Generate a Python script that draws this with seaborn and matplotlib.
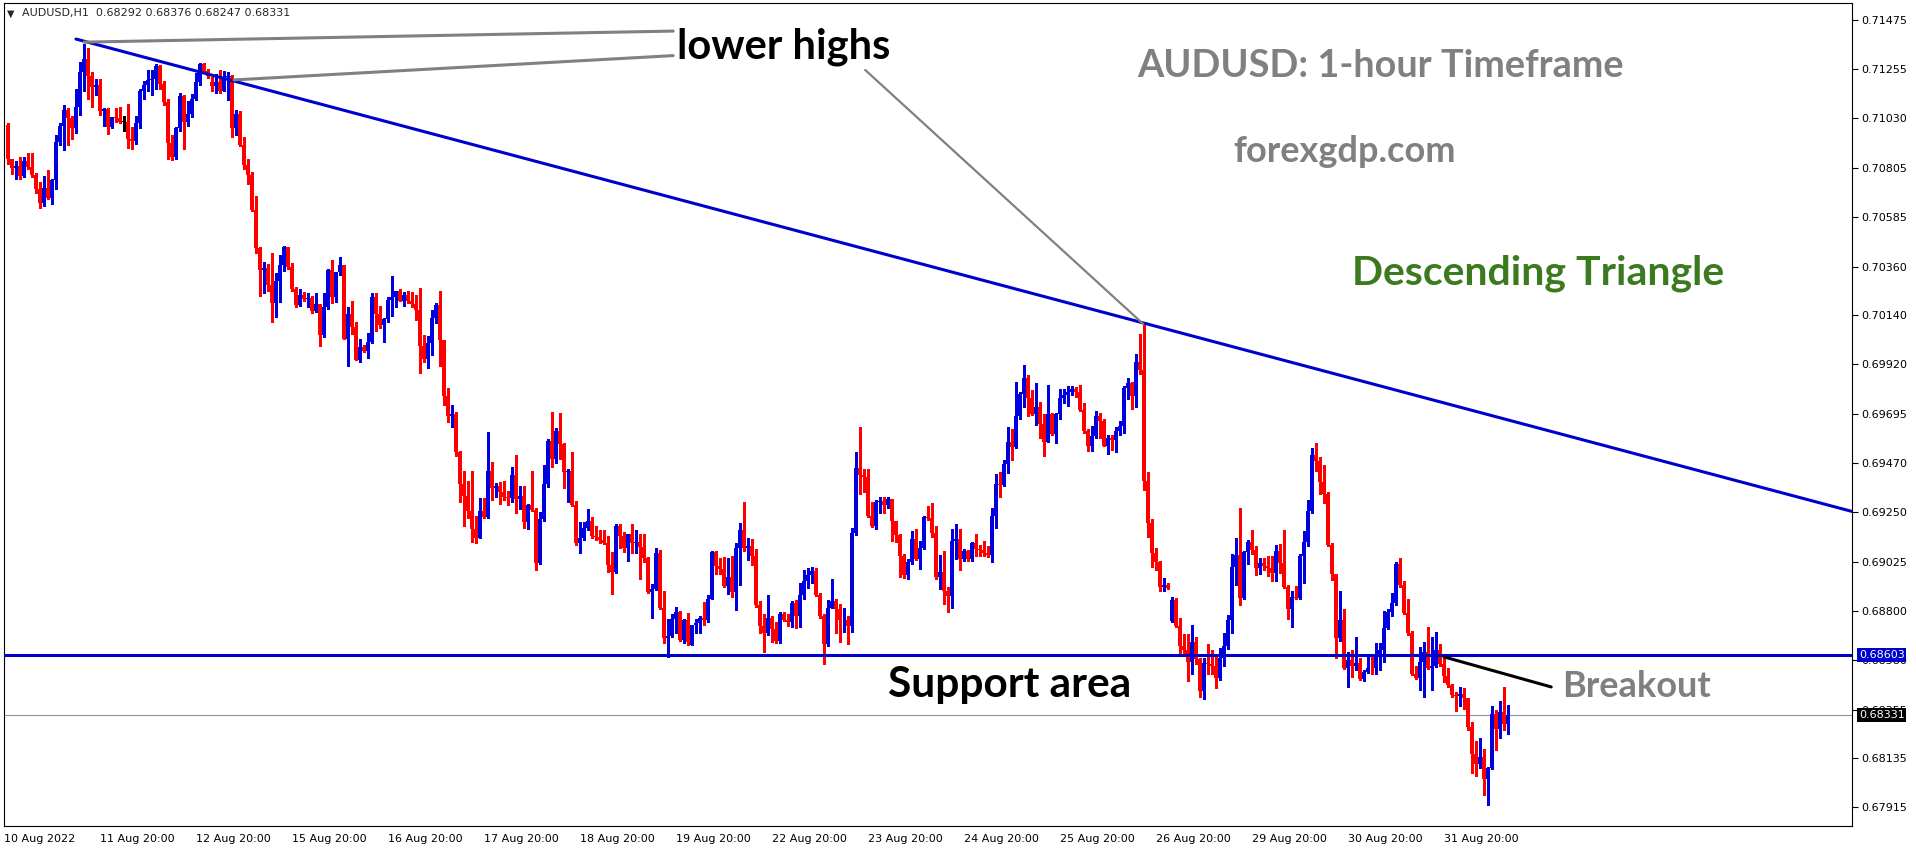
import numpy as np
import pandas as pd
import seaborn as sns
import matplotlib.pyplot as plt
import matplotlib.transforms as mtransforms
from matplotlib.ticker import FormatStrFormatter

# AUDUSD H1 candles, prices in pips (price * 1e4), one entry per hourly bar
opens = [
    7100.0, 7084.8, 7080.7, 7081.4, 7077.1, 7083.9, 7081.2, 7077.3, 7071.0, 7064.6,
    7071.4, 7066.9, 7075.0, 7092.3, 7099.5, 7106.7, 7103.3, 7098.6, 7108.1, 7124.2,
    7129.9, 7122.4, 7117.4, 7118.3, 7106.3, 7107.2, 7099.1, 7103.6, 7103.4, 7101.3,
    7101.3, 7093.8, 7092.9, 7100.9, 7115.6, 7117.9, 7120.4, 7120.6, 7126.9, 7118.7,
    7110.4, 7092.0, 7085.7, 7098.6, 7113.1, 7101.3, 7104.9, 7111.7, 7119.4, 7127.6,
    7124.4, 7119.4, 7117.6, 7119.4, 7115.3, 7121.9, 7122.4, 7098.6, 7105.1, 7091.1,
    7081.8, 7077.3, 7061.6, 7044.5, 7034.3, 7035.2, 7027.5, 7019.5, 7029.3, 7036.5,
    7044.9, 7035.6, 7025.8, 7018.6, 7023.1, 7021.3, 7021.8, 7015.9, 7018.9, 7005.2,
    7017.7, 7034.3, 7022.2, 7033.3, 7036.5, 7003.4, 7014.5, 7008.7, 6993.9, 6999.8,
    6997.7, 7001.9, 7022.3, 7014.3, 7009.5, 7012.2, 7021.0, 7022.1, 7024.7, 7020.6,
    7023.3, 7020.6, 7019.0, 7016.3, 7000.2, 6994.3, 7001.5, 7012.8, 7018.5, 7002.7,
    6977.4, 6968.4, 6969.3, 6952.3, 6937.7, 6932.1, 6925.5, 6917.1, 6913.0, 6925.5,
    6922.8, 6943.4, 6935.7, 6936.6, 6933.9, 6931.8, 6931.4, 6941.6, 6930.9, 6932.3,
    6920.5, 6928.2, 6926.0, 6901.9, 6921.9, 6937.7, 6957.2, 6949.1, 6961.8, 6955.9,
    6942.9, 6943.4, 6928.2, 6910.8, 6913.3, 6917.5, 6921.0, 6914.2, 6913.6, 6912.1,
    6910.8, 6900.8, 6897.8, 6918.4, 6914.2, 6908.5, 6914.8, 6910.7, 6911.5, 6908.9,
    6904.1, 6888.9, 6890.3, 6906.2, 6881.7, 6867.8, 6868.8, 6876.7, 6879.9, 6866.9,
    6876.0, 6864.7, 6873.7, 6874.9, 6877.2, 6876.3, 6885.6, 6906.7, 6900.5, 6899.2,
    6891.5, 6895.5, 6888.7, 6908.5, 6916.9, 6908.5, 6909.6, 6905.1, 6882.7, 6873.2,
    6870.2, 6876.8, 6872.0, 6866.4, 6878.6, 6875.9, 6875.0, 6884.0, 6878.1, 6887.6,
    6893.8, 6896.5, 6898.3, 6887.6, 6877.7, 6865.2, 6881.6, 6884.5, 6880.9, 6875.9,
    6876.3, 6873.2, 6915.6, 6944.8, 6941.7, 6941.0, 6923.3, 6918.5, 6929.6, 6930.0,
    6928.1, 6931.0, 6921.0, 6914.4, 6904.9, 6896.5, 6902.2, 6912.9, 6903.6, 6908.5,
    6922.8, 6922.1, 6915.3, 6895.6, 6897.7, 6889.3, 6887.0, 6911.7, 6912.6, 6903.6,
    6907.2, 6903.6, 6910.8, 6908.1, 6907.8, 6906.3, 6905.4, 6923.3, 6937.6, 6937.1,
    6946.6, 6956.7, 6954.2, 6968.4, 6978.4, 6985.5, 6976.6, 6969.4, 6972.5, 6964.8,
    6956.7, 6969.3, 6960.3, 6969.3, 6976.6, 6977.8, 6979.3, 6980.5, 6979.3, 6971.0,
    6961.4, 6954.6, 6959.1, 6968.4, 6966.2, 6955.0, 6958.2, 6957.3, 6961.8, 6963.9,
    6980.9, 6983.2, 6977.5, 6992.7, 6989.2, 6938.8, 6919.8, 6906.6, 6902.5, 6891.2,
    6891.8, 6875.7, 6885.0, 6873.4, 6864.4, 6862.3, 6856.9, 6866.2, 6858.3, 6843.8,
    6856.5, 6856.0, 6855.5, 6849.8, 6858.7, 6864.4, 6876.2, 6900.2, 6905.5, 6885.9,
    6907.0, 6911.3, 6907.9, 6899.8, 6902.0, 6900.7, 6899.5, 6897.5, 6907.3, 6902.0,
    6891.2, 6881.0, 6886.4, 6885.9, 6905.2, 6911.4, 6925.2, 6950.8, 6948.1, 6938.3,
    6932.9, 6910.2, 6897.1, 6868.0, 6876.2, 6854.2, 6857.8, 6855.1, 6856.5, 6849.4,
    6852.4, 6854.6, 6854.2, 6860.0, 6862.6, 6872.6, 6879.8, 6883.7, 6901.6, 6891.8,
    6879.3, 6870.3, 6851.5, 6849.8, 6856.9, 6861.7, 6854.2, 6855.5, 6862.6, 6856.0,
    6850.6, 6846.5, 6842.2, 6841.6, 6842.6, 6840.8, 6827.9, 6815.4, 6810.8, 6814.0,
    6804.2, 6809.2, 6833.7, 6826.9, 6834.6, 6829.2,
]
highs = [
    7100.9, 7084.8, 7083.6, 7085.7, 7085.7, 7087.5, 7087.5, 7078.2, 7074.1, 7077.1,
    7079.8, 7075.5, 7095.6, 7100.9, 7109.0, 7107.9, 7104.0, 7116.5, 7128.7, 7136.7,
    7134.9, 7124.2, 7120.6, 7120.6, 7107.7, 7107.6, 7103.6, 7107.6, 7108.1, 7104.0,
    7109.5, 7099.1, 7104.0, 7116.1, 7119.7, 7125.1, 7125.1, 7127.8, 7127.2, 7120.1,
    7111.7, 7095.6, 7099.1, 7114.7, 7113.5, 7110.8, 7114.0, 7123.7, 7128.1, 7128.1,
    7125.5, 7121.9, 7123.0, 7125.1, 7124.6, 7124.2, 7122.8, 7106.8, 7106.3, 7094.7,
    7084.8, 7078.9, 7067.8, 7044.9, 7037.9, 7037.0, 7042.2, 7032.9, 7041.0, 7045.4,
    7044.9, 7037.7, 7026.6, 7025.8, 7024.5, 7024.0, 7022.7, 7024.0, 7018.9, 7024.0,
    7034.7, 7038.8, 7033.5, 7040.1, 7036.5, 7017.7, 7020.4, 7010.9, 7003.0, 7000.7,
    7006.0, 7024.0, 7024.0, 7018.1, 7012.8, 7022.4, 7031.9, 7025.1, 7025.6, 7024.4,
    7024.7, 7024.6, 7022.9, 7026.4, 7005.1, 7004.7, 7016.2, 7019.7, 7024.9, 7002.7,
    6980.9, 6973.4, 6970.2, 6952.7, 6943.7, 6938.9, 6943.4, 6923.2, 6931.4, 6931.4,
    6961.3, 6947.7, 6938.0, 6938.6, 6938.9, 6934.4, 6945.2, 6950.9, 6936.6, 6936.6,
    6928.7, 6943.4, 6926.9, 6925.0, 6946.4, 6958.1, 6970.2, 6963.1, 6969.9, 6956.3,
    6944.3, 6952.0, 6930.0, 6920.5, 6920.5, 6926.4, 6922.8, 6918.7, 6916.9, 6916.6,
    6914.2, 6906.7, 6919.3, 6919.3, 6916.0, 6915.1, 6919.6, 6916.6, 6915.1, 6915.1,
    6904.4, 6892.4, 6908.5, 6907.6, 6889.2, 6876.7, 6879.0, 6882.1, 6880.0, 6876.7,
    6879.4, 6874.0, 6876.7, 6877.9, 6884.4, 6887.6, 6907.2, 6907.2, 6904.1, 6904.6,
    6904.1, 6904.9, 6910.8, 6920.1, 6929.4, 6913.3, 6912.6, 6908.1, 6884.9, 6878.6,
    6887.6, 6877.7, 6875.0, 6879.5, 6879.5, 6878.6, 6884.9, 6885.2, 6892.9, 6898.8,
    6899.5, 6900.1, 6899.5, 6888.4, 6878.6, 6885.2, 6894.7, 6885.8, 6883.4, 6881.6,
    6878.1, 6917.9, 6951.9, 6963.5, 6944.2, 6944.2, 6929.6, 6930.5, 6931.7, 6931.7,
    6931.7, 6931.0, 6921.0, 6914.9, 6906.0, 6903.6, 6916.2, 6917.1, 6911.7, 6923.3,
    6927.8, 6929.2, 6918.5, 6905.4, 6907.2, 6891.0, 6917.1, 6919.7, 6917.4, 6908.1,
    6907.7, 6911.2, 6914.9, 6909.9, 6912.0, 6909.4, 6926.9, 6942.1, 6943.0, 6948.3,
    6963.2, 6962.7, 6983.6, 6979.3, 6991.3, 6987.1, 6980.2, 6983.2, 6974.8, 6969.3,
    6982.3, 6969.6, 6969.8, 6980.5, 6980.5, 6982.0, 6981.8, 6981.4, 6982.3, 6974.3,
    6962.3, 6963.9, 6970.7, 6969.8, 6967.1, 6959.6, 6960.0, 6963.5, 6966.2, 6981.8,
    6985.4, 6983.6, 6996.6, 7005.6, 7009.8, 6943.1, 6921.6, 6908.8, 6903.0, 6895.3,
    6893.0, 6886.4, 6885.9, 6876.9, 6869.8, 6869.8, 6873.9, 6868.5, 6858.7, 6858.7,
    6865.3, 6862.3, 6860.8, 6863.2, 6870.3, 6878.4, 6906.1, 6913.2, 6926.6, 6907.3,
    6912.3, 6916.8, 6909.5, 6904.3, 6904.3, 6905.2, 6905.2, 6910.2, 6910.5, 6916.8,
    6891.8, 6889.1, 6891.3, 6906.1, 6916.3, 6930.2, 6953.8, 6956.1, 6949.9, 6946.0,
    6934.1, 6910.9, 6897.1, 6889.1, 6881.0, 6861.4, 6862.6, 6868.5, 6858.7, 6853.3,
    6859.6, 6859.6, 6865.8, 6865.8, 6880.1, 6881.0, 6888.2, 6902.5, 6904.3, 6893.6,
    6885.5, 6871.2, 6855.1, 6864.0, 6866.2, 6873.0, 6868.5, 6870.7, 6865.3, 6859.0,
    6854.2, 6847.1, 6843.5, 6845.6, 6845.3, 6841.0, 6830.0, 6821.5, 6822.9, 6817.6,
    6809.6, 6837.2, 6835.4, 6839.4, 6845.8, 6837.6,
]
lows = [
    7082.5, 7077.7, 7075.7, 7075.7, 7076.4, 7080.3, 7076.4, 7069.3, 7062.4, 7063.3,
    7066.6, 7064.2, 7071.0, 7091.1, 7088.9, 7091.1, 7093.8, 7096.5, 7104.5, 7115.6,
    7111.7, 7108.1, 7113.5, 7104.5, 7099.5, 7096.1, 7098.6, 7101.3, 7100.9, 7097.4,
    7089.7, 7089.0, 7091.6, 7098.6, 7111.7, 7115.3, 7113.5, 7116.5, 7116.5, 7109.0,
    7084.8, 7084.3, 7084.8, 7097.4, 7089.3, 7099.7, 7103.6, 7111.1, 7118.3, 7123.7,
    7121.2, 7115.3, 7114.4, 7114.7, 7115.3, 7111.3, 7094.7, 7095.6, 7090.7, 7080.0,
    7073.2, 7061.0, 7041.9, 7022.5, 7024.0, 7024.9, 7010.9, 7013.2, 7019.8, 7033.8,
    7034.7, 7024.9, 7017.7, 7018.2, 7020.4, 7017.7, 7015.0, 7015.6, 7000.2, 7004.3,
    7016.8, 7019.5, 7019.8, 7032.0, 7003.0, 6990.8, 7005.5, 6993.5, 6993.0, 6997.1,
    6994.8, 7001.2, 7007.0, 7008.1, 7002.0, 7011.0, 7013.7, 7017.9, 7020.3, 7018.3,
    7019.4, 7017.9, 7011.9, 6987.6, 6992.6, 6989.9, 6996.1, 7010.4, 6990.8, 6973.2,
    6965.6, 6963.4, 6950.5, 6929.4, 6918.7, 6922.3, 6911.2, 6910.8, 6913.0, 6922.3,
    6922.3, 6930.3, 6931.8, 6928.7, 6930.3, 6928.2, 6929.4, 6924.6, 6926.4, 6917.8,
    6917.1, 6925.5, 6898.7, 6901.6, 6921.0, 6936.2, 6945.2, 6947.0, 6948.8, 6935.7,
    6929.4, 6927.7, 6909.8, 6906.2, 6912.1, 6916.9, 6913.3, 6912.1, 6910.8, 6910.3,
    6897.8, 6888.0, 6897.3, 6908.5, 6906.7, 6902.6, 6906.2, 6906.2, 6894.8, 6902.3,
    6888.5, 6876.9, 6889.7, 6881.2, 6865.6, 6859.4, 6868.3, 6870.4, 6866.5, 6865.6,
    6865.0, 6864.7, 6870.4, 6870.4, 6874.0, 6875.4, 6885.6, 6896.9, 6896.9, 6891.2,
    6888.0, 6886.5, 6880.4, 6891.9, 6907.3, 6903.1, 6901.0, 6882.0, 6870.2, 6861.6,
    6869.1, 6866.1, 6865.6, 6865.5, 6875.5, 6873.2, 6873.0, 6872.4, 6872.7, 6885.8,
    6890.6, 6892.9, 6887.0, 6876.8, 6856.3, 6864.3, 6881.3, 6870.2, 6866.1, 6870.6,
    6865.2, 6870.6, 6914.4, 6933.1, 6934.0, 6922.7, 6918.0, 6917.4, 6924.6, 6924.6,
    6926.8, 6911.7, 6911.3, 6895.6, 6895.2, 6894.7, 6901.3, 6903.1, 6899.2, 6908.1,
    6921.5, 6913.8, 6894.7, 6889.9, 6883.1, 6879.5, 6881.3, 6903.6, 6898.8, 6902.7,
    6902.7, 6902.7, 6905.0, 6905.0, 6905.0, 6904.5, 6902.2, 6917.9, 6931.7, 6936.7,
    6942.4, 6948.4, 6953.7, 6966.8, 6972.5, 6968.5, 6968.9, 6964.4, 6958.2, 6950.1,
    6956.4, 6959.9, 6956.0, 6966.8, 6974.3, 6972.8, 6977.8, 6977.0, 6970.7, 6960.9,
    6952.5, 6952.5, 6958.6, 6958.6, 6954.6, 6951.0, 6952.8, 6951.9, 6960.0, 6960.9,
    6976.1, 6971.6, 6972.5, 6987.2, 6934.7, 6913.6, 6900.2, 6898.9, 6889.1, 6889.1,
    6890.0, 6875.2, 6872.7, 6860.8, 6860.8, 6848.3, 6851.5, 6856.0, 6841.2, 6840.5,
    6851.5, 6851.5, 6845.3, 6848.9, 6855.1, 6863.1, 6870.3, 6891.8, 6882.8, 6885.5,
    6901.6, 6906.1, 6896.6, 6897.1, 6898.9, 6896.2, 6893.6, 6893.6, 6897.2, 6890.5,
    6876.6, 6873.0, 6885.5, 6885.5, 6893.0, 6909.7, 6924.5, 6943.6, 6932.9, 6928.8,
    6909.7, 6894.1, 6858.7, 6866.7, 6853.7, 6845.8, 6850.1, 6853.3, 6848.8, 6848.3,
    6851.9, 6851.5, 6851.5, 6853.3, 6857.0, 6871.9, 6878.0, 6882.8, 6891.2, 6878.7,
    6869.4, 6851.0, 6849.3, 6844.4, 6841.2, 6853.7, 6844.4, 6854.8, 6855.1, 6847.9,
    6845.8, 6841.2, 6835.1, 6837.2, 6835.8, 6826.5, 6806.8, 6805.4, 6809.0, 6797.0,
    6792.2, 6808.8, 6817.2, 6822.6, 6826.5, 6824.7,
]
closes = [
    7084.8, 7080.7, 7081.4, 7077.1, 7083.9, 7081.2, 7077.3, 7071.0, 7064.6, 7071.4,
    7066.9, 7075.0, 7092.3, 7099.5, 7106.7, 7103.3, 7098.6, 7108.1, 7124.2, 7129.9,
    7122.4, 7117.4, 7118.3, 7106.3, 7107.2, 7099.1, 7103.6, 7103.4, 7101.3, 7101.3,
    7093.8, 7092.9, 7100.9, 7115.6, 7117.9, 7120.4, 7120.6, 7126.9, 7118.7, 7110.4,
    7092.0, 7085.7, 7098.6, 7113.1, 7101.3, 7104.9, 7111.7, 7119.4, 7127.6, 7124.4,
    7122.4, 7117.6, 7119.4, 7115.3, 7121.9, 7122.4, 7098.6, 7105.1, 7091.1, 7081.8,
    7077.3, 7061.6, 7044.5, 7034.3, 7035.2, 7027.5, 7019.5, 7029.3, 7036.5, 7044.9,
    7035.6, 7025.8, 7018.6, 7023.1, 7021.3, 7021.8, 7015.9, 7018.9, 7005.2, 7017.7,
    7034.3, 7022.2, 7033.3, 7036.5, 7003.4, 7014.5, 7008.7, 6993.9, 6999.8, 6997.7,
    7001.9, 7022.3, 7014.3, 7009.5, 7012.2, 7021.0, 7022.1, 7024.7, 7020.6, 7023.3,
    7020.6, 7019.0, 7016.3, 7000.2, 6994.3, 7001.5, 7012.8, 7018.5, 7002.7, 6977.4,
    6968.4, 6969.3, 6952.3, 6937.7, 6932.1, 6925.5, 6917.1, 6913.0, 6925.5, 6922.8,
    6943.4, 6935.7, 6936.6, 6933.9, 6931.8, 6931.4, 6941.6, 6930.9, 6932.3, 6920.5,
    6928.2, 6926.0, 6901.9, 6921.9, 6937.7, 6957.2, 6949.1, 6961.8, 6955.9, 6942.9,
    6943.4, 6928.2, 6910.8, 6913.3, 6917.5, 6921.0, 6914.2, 6913.6, 6912.1, 6910.8,
    6900.8, 6897.8, 6918.4, 6914.2, 6908.5, 6914.8, 6910.7, 6911.5, 6908.9, 6904.1,
    6888.9, 6890.3, 6906.2, 6881.7, 6867.8, 6868.8, 6876.7, 6879.9, 6866.9, 6876.0,
    6866.0, 6873.7, 6874.9, 6877.2, 6876.3, 6885.6, 6906.7, 6900.5, 6899.2, 6891.5,
    6895.5, 6888.7, 6908.5, 6916.9, 6908.5, 6909.6, 6905.1, 6882.7, 6873.2, 6870.2,
    6876.8, 6872.0, 6866.4, 6878.6, 6875.9, 6875.0, 6884.0, 6878.1, 6887.6, 6893.8,
    6896.5, 6898.3, 6887.6, 6877.7, 6865.2, 6881.6, 6884.5, 6880.9, 6875.9, 6876.3,
    6873.2, 6915.6, 6944.8, 6941.7, 6941.0, 6923.3, 6918.5, 6929.6, 6930.0, 6928.1,
    6931.0, 6921.0, 6914.4, 6904.9, 6896.5, 6902.2, 6912.9, 6903.6, 6908.5, 6922.8,
    6922.1, 6915.3, 6895.6, 6897.7, 6889.3, 6887.0, 6911.7, 6912.6, 6903.6, 6907.2,
    6903.6, 6910.8, 6908.1, 6907.8, 6906.3, 6905.4, 6923.3, 6937.6, 6937.1, 6946.6,
    6956.7, 6954.2, 6968.4, 6978.4, 6985.5, 6976.6, 6969.4, 6972.5, 6964.8, 6956.7,
    6969.3, 6960.3, 6969.3, 6976.6, 6977.8, 6979.3, 6980.5, 6979.3, 6971.0, 6961.4,
    6954.6, 6959.1, 6968.4, 6966.2, 6955.0, 6958.2, 6957.3, 6961.8, 6963.9, 6980.9,
    6983.2, 6977.5, 6992.7, 6989.2, 6938.8, 6919.8, 6906.6, 6902.5, 6891.2, 6891.8,
    6890.5, 6885.0, 6873.4, 6864.4, 6862.3, 6856.9, 6866.2, 6858.3, 6843.8, 6856.5,
    6856.0, 6855.5, 6849.8, 6858.7, 6864.4, 6876.2, 6900.2, 6905.5, 6885.9, 6907.0,
    6911.3, 6907.9, 6899.8, 6902.0, 6900.7, 6899.5, 6897.5, 6907.3, 6902.0, 6891.2,
    6881.0, 6886.4, 6885.9, 6905.2, 6911.4, 6925.2, 6950.8, 6948.1, 6938.3, 6932.9,
    6910.2, 6897.1, 6868.0, 6876.2, 6854.2, 6857.8, 6855.1, 6856.5, 6849.4, 6852.4,
    6854.6, 6854.2, 6860.0, 6862.6, 6872.6, 6879.8, 6883.7, 6901.6, 6891.8, 6879.3,
    6870.3, 6851.5, 6849.8, 6856.9, 6861.7, 6854.2, 6855.5, 6862.6, 6856.0, 6850.6,
    6846.5, 6842.2, 6841.6, 6842.6, 6840.8, 6827.9, 6815.4, 6810.8, 6814.0, 6804.2,
    6809.2, 6833.7, 6826.9, 6834.6, 6829.2, 6833.1,
]

x_labels = ['10 Aug 2022', '11 Aug 20:00', '12 Aug 20:00', '15 Aug 20:00',
            '16 Aug 20:00', '17 Aug 20:00', '18 Aug 20:00', '19 Aug 20:00',
            '22 Aug 20:00', '23 Aug 20:00', '24 Aug 20:00', '25 Aug 20:00',
            '26 Aug 20:00', '29 Aug 20:00', '30 Aug 20:00', '31 Aug 20:00']
y_ticks = [0.71475, 0.71255, 0.71030, 0.70805, 0.70585, 0.70360, 0.70140,
           0.69920, 0.69695, 0.69470, 0.69250, 0.69025, 0.68800, 0.68580,
           0.68355, 0.68135, 0.67915]

support_price = 0.68603
trend_bars = [17.0, 461.0]
trend_prices = [0.71389, 0.69252]
# "lower highs" pointers: from the two swing highs to the label
lh_from_bars = [19.0, 56.5]
lh_from_prices = [0.71375, 0.71204]
lh_to_bars = [166.3, 166.3]
lh_to_prices = [0.71425, 0.71314]
touch_bars = [214.3, 283.8]
touch_prices = [0.71249, 0.70100]
breakout_bars = [359.0, 385.8]
breakout_prices = [0.68594, 0.68458]

df = pd.DataFrame({'open': opens, 'high': highs, 'low': lows, 'close': closes}) / 1e4
df['bar'] = np.arange(len(df))
up_col, down_col, line_blue = '#0000dd', '#ff0000', '#0000cd'
colors = np.where(df.close > df.open, up_col, np.where(df.close < df.open, down_col, 'black'))

sns.set_style('white')
plt.rcParams['font.family'] = ['DejaVu Sans']

W, H = 1916, 850
fig = plt.figure(figsize=(W / 100, H / 100), dpi=100)
# plot box in image pixels: x 4..1852, y 3..826
ax = fig.add_axes([4 / W, (H - 826) / H, 1848 / W, 823 / H])
ax.set_xlim(-1, 461)
ax.set_ylim(0.67829, 0.71552)


def px(x, y):
    return (x - 4) / 1848, (826 - y) / 823


# candles
ax.vlines(df.bar, df.low, df.high, colors=colors, lw=0.75, antialiased=False, zorder=2)
body = np.maximum((df.close - df.open).abs(), 0.00003)
ax.bar(df.bar, body, bottom=np.minimum(df.open, df.close), width=0.75,
       color=colors, linewidth=0, antialiased=False, zorder=3)

# current price line
last = df.iloc[-1]
ax.axhline(last.close, color='#8a96a3', lw=0.8, zorder=1)

# trend lines
sns.lineplot(x=trend_bars, y=trend_prices, color=line_blue, lw=2.2, ax=ax, zorder=4)
ax.axhline(support_price, color=line_blue, lw=2.2, zorder=4)
for b0, p0, b1, p1 in zip(lh_from_bars, lh_from_prices, lh_to_bars, lh_to_prices):
    sns.lineplot(x=[b0, b1], y=[p0, p1], color='#808080', lw=2.2, ax=ax, zorder=5)
sns.lineplot(x=touch_bars, y=touch_prices, color='#808080', lw=1.6, ax=ax, zorder=5)
sns.lineplot(x=breakout_bars, y=breakout_prices, color='black', lw=2.2, ax=ax, zorder=5)

# axes styling, MT4 look
for s in ax.spines.values():
    s.set_color('black')
    s.set_linewidth(0.8)
ax.yaxis.tick_right()
ax.set_yticks(y_ticks)
ax.yaxis.set_major_formatter(FormatStrFormatter('%.5f'))
ax.set_xticks(np.arange(len(x_labels)) * 24 - 1)
ax.set_xticklabels(x_labels, ha='left')
ax.tick_params(axis='y', length=4, width=0.8, pad=3, labelsize=8, colors='black')
ax.tick_params(axis='x', length=4, width=0.8, pad=2, labelsize=8, colors='black')
ax.set_xlabel('')
ax.set_ylabel('')

# right-axis price boxes
tr = mtransforms.blended_transform_factory(ax.transAxes, ax.transData)
ax.text(1 + 7 / 1848, support_price, f'{support_price:.5f}', transform=tr, color='white',
        fontsize=8, va='center', ha='left', clip_on=False, zorder=10,
        bbox=dict(boxstyle='square,pad=0.15', fc=line_blue, ec='none'))
ax.text(1 + 7 / 1848, last.close, f'{last.close:.5f}', transform=tr, color='white',
        fontsize=8, va='center', ha='left', clip_on=False, zorder=10,
        bbox=dict(boxstyle='square,pad=0.15', fc='black', ec='none'))

# header
ax.text(*px(7, 14), '\u25bc', transform=ax.transAxes, fontsize=7, va='center', ha='left')
ax.text(*px(22, 13),
        f'AUDUSD,H1  {last.open:.5f} {last.high:.5f} {last.low:.5f} {last.close:.5f}',
        transform=ax.transAxes, fontsize=8, va='center', ha='left')

# annotations
big = dict(transform=ax.transAxes, ha='center', va='baseline',
           fontweight='bold', family='Lato', zorder=6)
ax.text(*px(784, 58), 'lower highs', color='black', fontsize=30, **big)
ax.text(*px(1381, 77), 'AUDUSD: 1-hour Timeframe', color='#808080', fontsize=27.3, **big)
ax.text(*px(1344, 162), 'forexgdp.com', color='#808080', fontsize=26, **big)
ax.text(*px(1538, 285), 'Descending Triangle', color='#3b7a1f', fontsize=29.5, **big)
ax.text(*px(1010, 697), 'Support area', color='black', fontsize=30.5, **big)
ax.text(*px(1637, 697), 'Breakout', color='#808080', fontsize=26, **big)

fig.savefig('out.png', dpi=100)
